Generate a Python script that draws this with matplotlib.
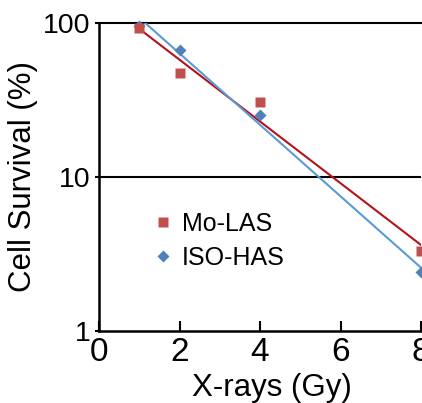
import numpy as np
import matplotlib
matplotlib.use("Agg")
import matplotlib.pyplot as plt
from matplotlib.ticker import FixedLocator, NullLocator

plt.rcParams['font.family'] = ['Liberation Sans', 'DejaVu Sans']

dose = [1, 2, 4, 8]
mo_las = [93, 47, 30.5, 3.3]
iso_has = [95, 67, 25.3, 2.4]
xticks = [0, 2, 4, 6, 8]
yticks = [1, 10, 100]
ytick_labels = ["1", "10", "100"]

red_m = '#C0504D'
red_l = '#B5121B'
blue_m = '#4F81BD'
blue_l = '#5B9BD5'

fig = plt.figure(figsize=(4.22, 4.03), dpi=100)
ax = fig.add_axes([99/422, 1-331/403, 322/422, 308/403])

ax.set_yscale('log')
ax.set_xlim(0, 8)
ax.set_ylim(1, 100)

# exponential trend lines (fit in log space)
xf = np.linspace(0.95, 8, 50)
for vals, col in [(mo_las, red_l), (iso_has, blue_l)]:
    p = np.polyfit(dose, np.log10(vals), 1)
    ax.plot(xf, 10**np.polyval(p, xf), color=col, lw=1.5, zorder=3)

ax.plot(dose, iso_has, 'D', color=blue_m, ms=6.5, mec='none', label='ISO-HAS', zorder=4, clip_on=False)
ax.plot(dose, mo_las, 's', color=red_m, ms=7.5, mec='none', label='Mo-LAS', zorder=5, clip_on=False)

ax.yaxis.set_major_locator(FixedLocator(yticks))
ax.yaxis.set_minor_locator(NullLocator())
ax.set_yticklabels(ytick_labels)
ax.set_xticks(xticks)

ax.axhline(10, color='black', lw=1.5, zorder=2)
ax.spines['right'].set_visible(False)
ax.spines['top'].set_linewidth(1.5)
ax.spines['left'].set_linewidth(1.8)
ax.spines['bottom'].set_linewidth(1.8)

ax.tick_params(axis='x', direction='in', length=7, width=1.5, labelsize=24, pad=4)
ax.tick_params(axis='y', direction='out', length=3, width=1.5, labelsize=20.5, pad=3)

ax.set_xlabel('X-rays (Gy)', fontsize=22.5)
ax.xaxis.set_label_coords(0.537, -0.135)
ax.set_ylabel('Cell Survival (%)', fontsize=22.5)
ax.yaxis.set_label_coords(-0.19, 0.5)

handles, labels = ax.get_legend_handles_labels()
ax.legend(handles[::-1], labels[::-1], loc='upper left', bbox_to_anchor=(0.145, 0.42),
          frameon=False, fontsize=18, handlelength=0.6, handletextpad=0.45,
          labelspacing=0.42, borderaxespad=0, markerscale=0.95)

fig.savefig('out.png', dpi=100)
